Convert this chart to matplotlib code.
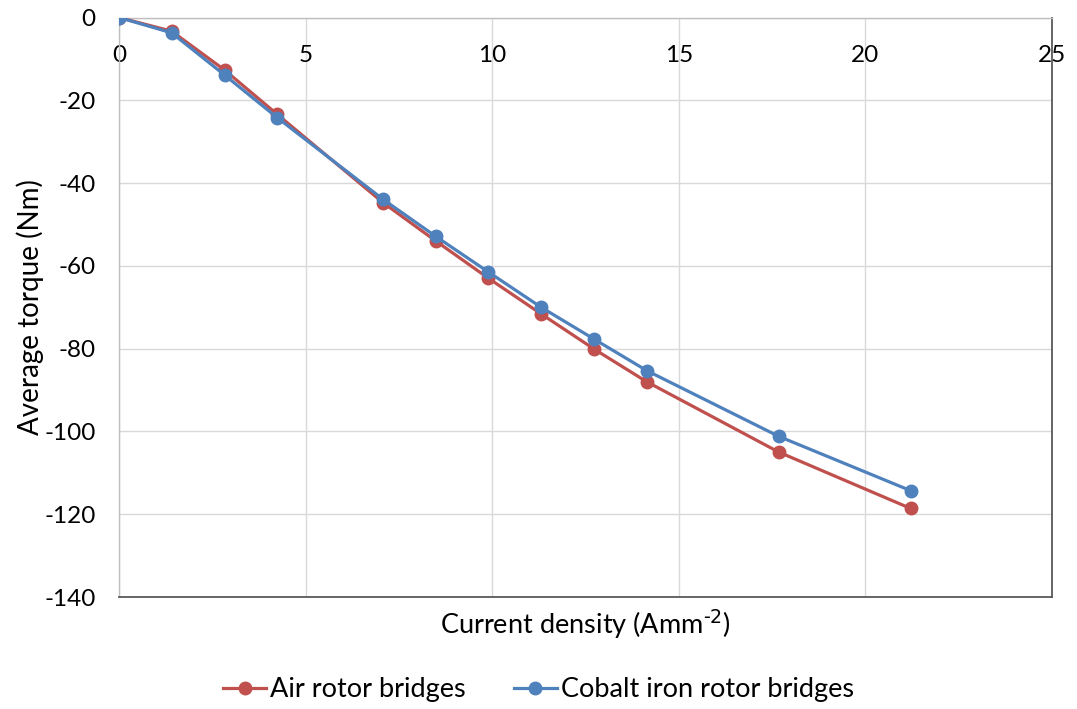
import numpy as np
import matplotlib
matplotlib.use("Agg")
import matplotlib.pyplot as plt

# current density (A/mm^2)
current_density = [0, 1.41, 2.83, 4.24, 7.07, 8.49, 9.90, 11.31, 12.73, 14.14, 17.68, 21.21]
# average torque (Nm)
torque_air = [0, -3.3, -12.7, -23.4, -44.7, -54.0, -63.0, -71.6, -80.1, -88.0, -105.0, -118.6]
torque_cobalt = [0, -3.7, -13.9, -24.2, -43.9, -52.9, -61.5, -70.0, -77.7, -85.3, -101.2, -114.3]

series_labels = ["Air rotor bridges", "Cobalt iron rotor bridges"]
x_ticks = [0, 5, 10, 15, 20, 25]
y_ticks = [0, -20, -40, -60, -80, -100, -120, -140]

plt.rcParams['font.family'] = ['Lato', 'DejaVu Sans']
plt.rcParams['mathtext.default'] = 'regular'

RED = '#C0504D'
BLUE = '#4F81BD'

fig = plt.figure(figsize=(10.77, 7.09), dpi=100)
ax = fig.add_axes([119/1077, 1 - 597/709, 933/1077, (597 - 17.5)/709])

ax.plot(current_density, torque_air, color=RED, lw=2.3, marker='o', ms=9,
        label=series_labels[0], zorder=3)
ax.plot(current_density, torque_cobalt, color=BLUE, lw=2.3, marker='o', ms=9,
        label=series_labels[1], zorder=4)

ax.set_xlim(0, 25)
ax.set_ylim(-140, 0)
ax.set_xticks(x_ticks)
ax.set_yticks(y_ticks)
ax.set_yticklabels([str(v) for v in y_ticks])
ax.grid(True, color='#d9d9d9', lw=1)
ax.set_axisbelow(True)

# x axis sits on the zero line at the top, labels drawn just under it
ax.tick_params(axis='x', bottom=False, labelbottom=False, top=True, labeltop=True,
               length=0, pad=-35, labelsize=17.5, colors='black')
ax.tick_params(axis='y', length=0, pad=17, labelsize=17.5)

for side in ['top', 'left']:
    ax.spines[side].set_color('#bfbfbf')
    ax.spines[side].set_linewidth(1)
for side in ['right', 'bottom']:
    ax.spines[side].set_color('#595959')
    ax.spines[side].set_linewidth(1.3)

ax.set_xlabel('Current density (Amm$^{\\text{-2}}$)', fontsize=19.5)
ax.xaxis.set_label_position('bottom')
ax.xaxis.labelpad = 8
ax.set_ylabel('Average torque (Nm)', fontsize=20)
ax.yaxis.set_label_coords(-0.08, 0.5)

fig.legend(loc='center', bbox_to_anchor=(0.5, 1 - 690/709), ncol=2, frameon=False,
           fontsize=19.5, handlelength=1.6, handletextpad=0.15, columnspacing=1.75,
           borderaxespad=0)

fig.savefig('out.png', dpi=100)
